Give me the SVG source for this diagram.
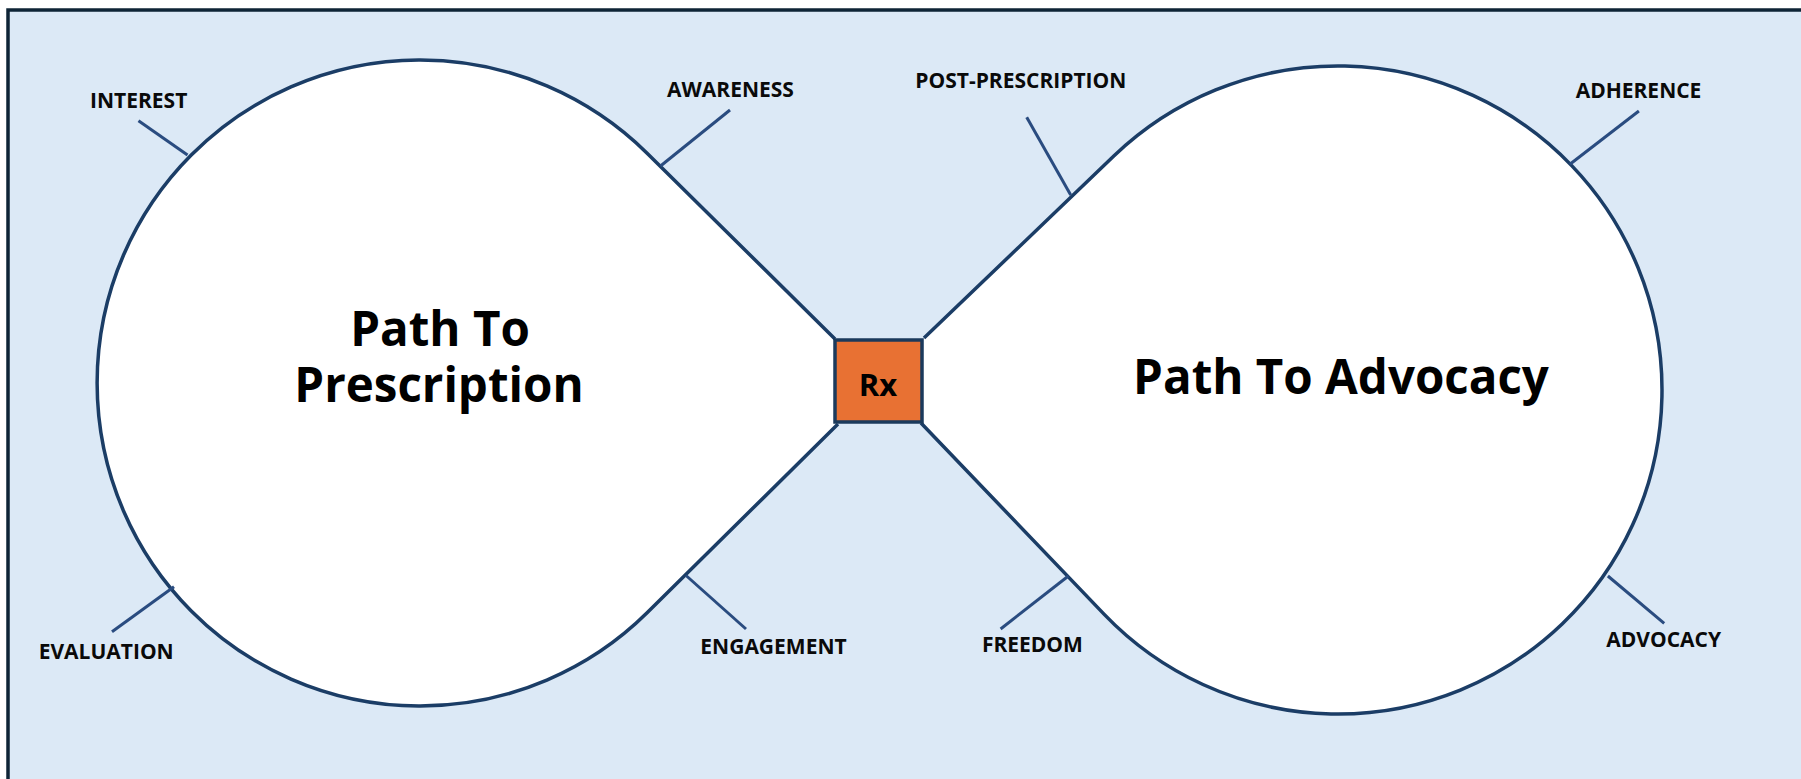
<svg xmlns="http://www.w3.org/2000/svg" width="1801" height="779" viewBox="0 0 1801 779">
  <style>
    .lbl { font-family: "Open Sans", "Noto Sans", "Liberation Sans", sans-serif; font-weight: 700; font-size: 21px; fill: #0a0a0a; text-anchor: middle; }
    .title { font-family: "Open Sans", "Noto Sans", "Liberation Sans", sans-serif; font-weight: 700; font-size: 47.5px; fill: #000; text-anchor: middle; }
    .rx { font-family: "Open Sans", "Noto Sans", "Liberation Sans", sans-serif; font-weight: 700; font-size: 31px; fill: #000; text-anchor: middle; }
    .lobe { fill: #ffffff; stroke: #1b3d66; stroke-width: 3.5; stroke-linejoin: round; }
    .tick { stroke: #2a4c80; stroke-width: 3; fill: none; }
  </style>
  <rect x="0" y="0" width="1801" height="779" fill="#ffffff"/>
  <rect x="8" y="10" width="1820" height="800" fill="#dce9f6" stroke="#0e2436" stroke-width="3.5"/>

  <g id="path-to-prescription">
    <path class="lobe" d="M835,339 L647.1,153.2 A323,323 0 1 0 647.1,612.8 L838,424"/>
    <text class="title" x="440" y="346">Path To</text>
    <text class="title" x="439" y="402">Prescription</text>
  </g>

  <g id="path-to-advocacy">
    <path class="lobe" d="M924,338 L1113.8,156.1 A324,324 0 1 1 1104,614.1 L921,423"/>
    <text class="title" x="1341" y="394">Path To Advocacy</text>
  </g>

  <g id="rx">
    <rect x="835" y="340" width="87" height="82" fill="#e87133" stroke="#1b3a5c" stroke-width="3.5"/>
    <text class="rx" x="878" y="396">Rx</text>
  </g>

  <g id="connectors">
    <line class="tick" x1="138.5" y1="120.7" x2="187.5" y2="155"/>
    <line class="tick" x1="730" y1="110" x2="660.5" y2="166"/>
    <line class="tick" x1="1026.7" y1="117.3" x2="1070.7" y2="195"/>
    <line class="tick" x1="1638.9" y1="111" x2="1569.9" y2="164.3"/>
    <line class="tick" x1="112" y1="631.7" x2="174" y2="586.7"/>
    <line class="tick" x1="746" y1="629" x2="686" y2="575.5"/>
    <line class="tick" x1="1000.6" y1="629" x2="1068.4" y2="576"/>
    <line class="tick" x1="1664.2" y1="623.3" x2="1607.9" y2="576"/>
  </g>

  <g id="label-interest"><text class="lbl" x="138.7" y="107.7">INTEREST</text></g>
  <g id="label-awareness"><text class="lbl" x="730.5" y="96.7">AWARENESS</text></g>
  <g id="label-post-prescription"><text class="lbl" x="1020.8" y="87.7">POST-PRESCRIPTION</text></g>
  <g id="label-adherence"><text class="lbl" x="1638.5" y="97.7">ADHERENCE</text></g>
  <g id="label-evaluation"><text class="lbl" x="106.2" y="659">EVALUATION</text></g>
  <g id="label-engagement"><text class="lbl" x="773.5" y="654.3">ENGAGEMENT</text></g>
  <g id="label-freedom"><text class="lbl" x="1032.4" y="652.3">FREEDOM</text></g>
  <g id="label-advocacy"><text class="lbl" x="1663.7" y="647.3">ADVOCACY</text></g>
</svg>
